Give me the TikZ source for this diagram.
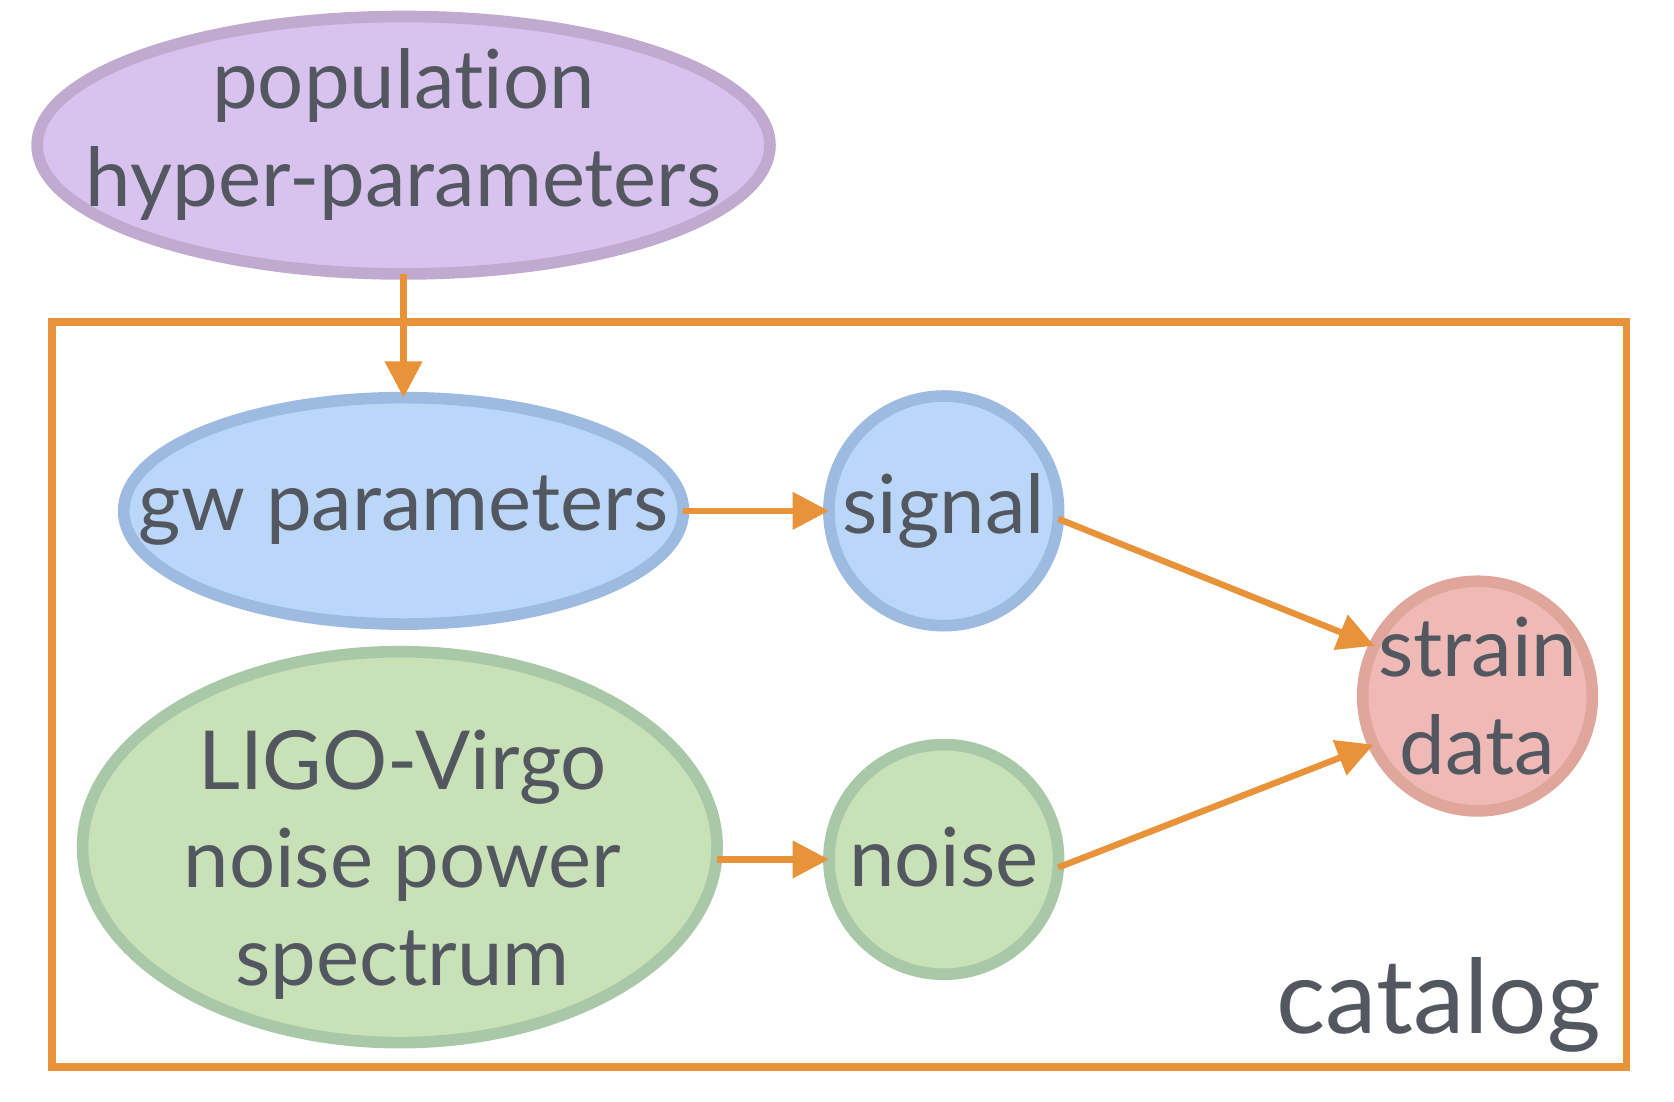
\documentclass[tikz,border=0pt]{standalone}
\usepackage{fontspec}
\setmainfont{Lato}[Ligatures=NoCommon]
\usetikzlibrary{arrows.meta,shapes.geometric}
\definecolor{txt}{HTML}{53575F}
\definecolor{orng}{HTML}{E8923A}
\definecolor{purF}{HTML}{D8C2EE}
\definecolor{purD}{HTML}{C1AAD0}
\definecolor{bluF}{HTML}{BAD7F9}
\definecolor{bluD}{HTML}{9DBAE0}
\definecolor{grnF}{HTML}{C8E1B6}
\definecolor{grnD}{HTML}{A8C8A8}
\definecolor{redF}{HTML}{EFBAB6}
\definecolor{redD}{HTML}{E0A69C}
\begin{document}
\begin{tikzpicture}[x=0.01cm,y=-0.01cm,
  shp/.style={line width=3.1pt,inner sep=0pt,outer sep=0pt},
  ell/.style={shp,ellipse},
  circ/.style={shp,circle,minimum size=2.15cm},
  lab/.style={text=txt,align=center,inner sep=0pt,font=\fontsize{21.7}{26}\selectfont},
  arr/.style={orng,line width=1.7pt,-{Triangle[length=0.34cm,width=0.34cm]}}]
\useasboundingbox (0,0) rectangle (1568,1032);
% plate
\draw[orng,line width=2pt] (48.5,301.5) rectangle (1523.5,999.5);
% shapes
\node[ell,draw=purD,fill=purF,minimum width=6.86cm,minimum height=2.41cm] (pop) at (378,136) {};
\node[ell,draw=bluD,fill=bluF,minimum width=5.24cm,minimum height=2.12cm] (gw) at (378,478.5) {};
\node[ell,draw=grnD,fill=grnF,minimum width=5.94cm,minimum height=3.66cm] (ligo) at (374.5,793.5) {};
\node[circ,draw=bluD,fill=bluF] (signal) at (884,478.5) {};
\node[circ,draw=grnD,fill=grnF] (noise) at (884,805) {};
\node[circ,draw=redD,fill=redF] (strain) at (1384,652) {};
% texts
\node[lab] (poptxt) at (378,126) {population\\hyper-parameters};
\node[lab,anchor=base] (gwtxt) at (378,497) {gw parameters};
\node[lab] (ligotxt) at (377,810) {LIGO-Virgo\\noise power\\spectrum};
\node[lab,anchor=base] (sigtxt) at (884,500) {signal};
\node[lab,anchor=base] (noitxt) at (884,830) {noise};
\node[lab] (strtxt) at (1384,652) {strain\\data};
\node[lab,font=\fontsize{27.5}{32}\selectfont,anchor=base east] (cat) at (1500,968) {catalog};
% connectors
\draw[arr] (pop.south) -- (gw.north);
\draw[arr] (gw.east) -- (signal.west);
\draw[arr] (ligo.east |- noise.west) -- (noise.west);
\draw[arr] (signal.-4) -- (strain.154);
\draw[arr] (noise.-4) -- (strain.205);
\end{tikzpicture}
\end{document}
